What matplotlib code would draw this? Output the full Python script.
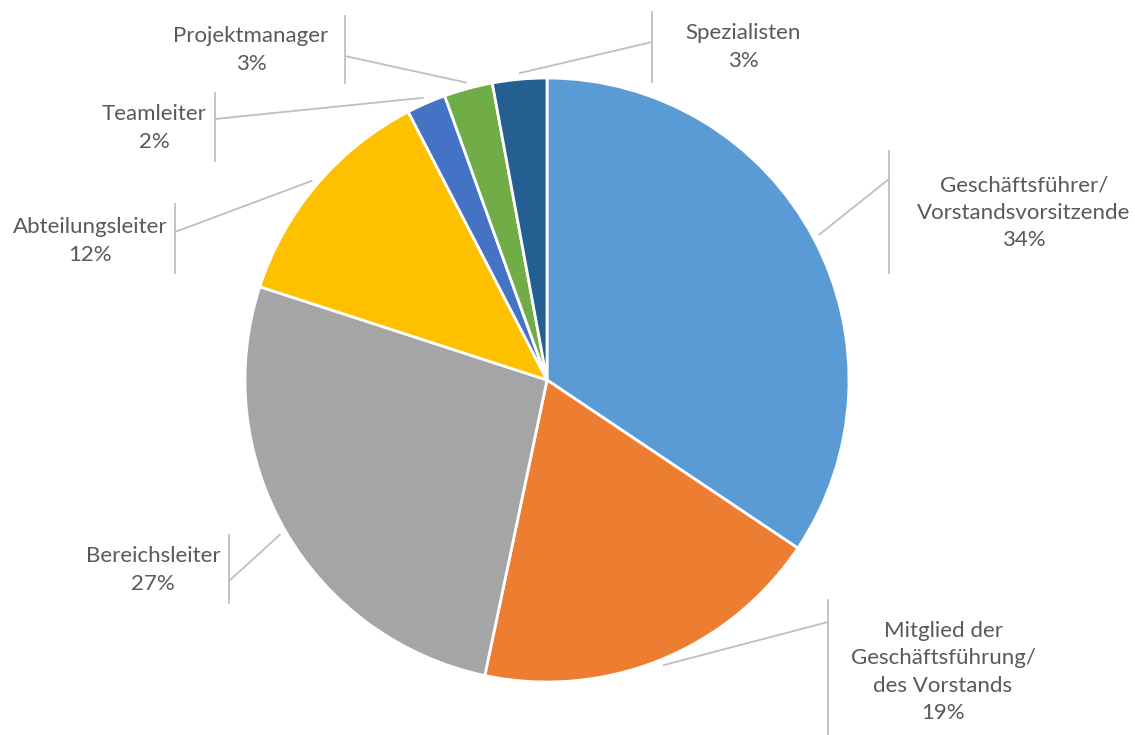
import numpy as np
import matplotlib.pyplot as plt

# Data: share of respondents by position (clockwise from 12 o'clock)
positions = [
    "Geschäftsführer/\nVorstandsvorsitzende",
    "Mitglied der\nGeschäftsführung/\ndes Vorstands",
    "Bereichsleiter",
    "Abteilungsleiter",
    "Teamleiter",
    "Projektmanager",
    "Spezialisten",
]
shares = [34.4, 18.9, 26.7, 12.4, 2.1, 2.6, 2.9]
colors = ["#5B9BD5", "#ED7D31", "#A5A5A5", "#FFC000", "#4472C4", "#70AD47", "#255E91"]

# Label layout in pixel coords (y measured from top)
label_xy = [(1024, 213), (943, 672), (153, 570), (90, 241), (154, 128), (251, 50), (743, 47)]
bar_x = [889, 828, 229, 175, 215, 345, 652]
bar_y = [(151, 273), (600, 735), (535, 603), (204, 273), (93, 161), (16, 83), (12, 82)]
elbow_y = [179, 622, 581, 232, 119, 56, 42]

W, H = 1135, 735
CX, CY, R = 547, 380, 302
TEXT = "#595959"
LINE = "#BFBFBF"

plt.rcParams["font.family"] = ["Lato", "DejaVu Sans"]

fig = plt.figure(figsize=(W / 100, H / 100), dpi=100)
ax = fig.add_axes([0, 0, 1, 1])

wedges, _ = ax.pie(
    shares,
    colors=colors,
    startangle=90,
    counterclock=False,
    center=(CX, H - CY),
    radius=R,
    wedgeprops=dict(edgecolor="white", linewidth=2),
)

total = sum(shares)
for i, w in enumerate(wedges):
    mid = np.deg2rad((w.theta1 + w.theta2) / 2)
    sx = CX + (R + 6) * np.cos(mid)
    sy = (H - CY) + (R + 6) * np.sin(mid)
    # leader line to the label bar
    ax.plot([sx, bar_x[i]], [sy, H - elbow_y[i]], color=LINE, lw=1.3, solid_capstyle="butt")
    ax.plot([bar_x[i], bar_x[i]], [H - bar_y[i][0], H - bar_y[i][1]], color=LINE, lw=1.3)
    pct = round(shares[i] / total * 100)
    lx, ly = label_xy[i]
    ax.text(lx, H - ly, f"{positions[i]}\n{pct}%", ha="center", va="center",
            fontsize=16, color=TEXT, linespacing=1.44)

ax.set_xlim(0, W)
ax.set_ylim(0, H)
ax.set_aspect("equal")
ax.axis("off")

plt.savefig("out.png", dpi=100)
plt.close()
